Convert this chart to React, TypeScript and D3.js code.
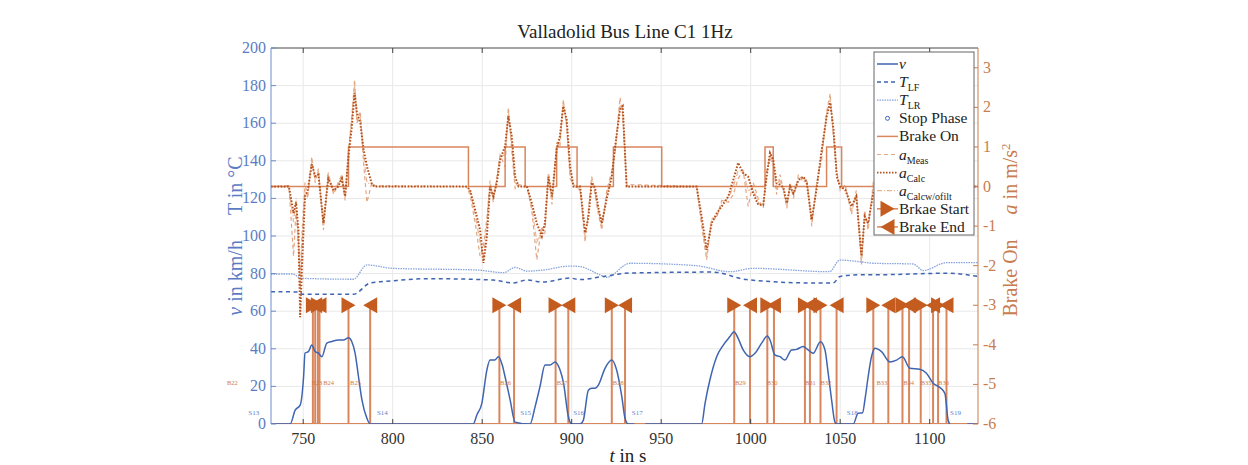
import React from 'react';
import * as d3 from 'd3';

type Pt = [number, number | null];

const xTicks = [750, 800, 850, 900, 950, 1000, 1050, 1100];
const leftTicks = [0, 20, 40, 60, 80, 100, 120, 140, 160, 180, 200];
const rightTicks = [-6, -5, -4, -3, -2, -1, 0, 1, 2, 3];

const speed: Pt[] = [
  [732, 0], [742.7, 0], [745.5, 7.4], [748.3, 10], [750.2, 25], [751, 37.7], [752.9, 38.5], [754.8, 42], [756.7, 38.5],
  [758.5, 37.7], [760.4, 35.8], [763.2, 43], [766, 43.9], [769.7, 44.7], [772.5, 44.7], [775.3, 45.9], [777.1, 43.9],
  [779, 37.6], [780.9, 25], [782.8, 12.8], [785.6, 3], [787.4, 0], [845, 0], [847, 4.8], [849.8, 11], [852.6, 28.7],
  [854.4, 34], [857, 34], [859.1, 35.8], [861, 32], [862.8, 25], [865.6, 12.8], [868.4, 1], [876.7, 0], [879.5, 9],
  [882.3, 20], [885.1, 31.4], [887.9, 31.4], [890.7, 33], [893.5, 28.7], [895.4, 22], [898.1, 4], [900, 0], [904.7, 0],
  [906.5, 2], [909.3, 18], [911.2, 19], [913, 19], [914.9, 20.7], [918.6, 29.6], [922.4, 34], [925.1, 28.7], [928, 14.5],
  [929.8, 3], [931.7, 0], [935, 0], [938, null], [941, 0], [972.6, 0], [974.5, 11], [977.2, 23.4], [981, 35.8],
  [984.7, 42], [988.4, 46.5], [990.7, 49.1], [993, 45.5], [995.8, 39.4], [999.6, 35.8], [1002.4, 37.6], [1006.1, 43],
  [1009.3, 46.8], [1010.8, 44.7], [1013.5, 36.8], [1016.4, 35.8], [1019.1, 34], [1022.8, 39.4], [1025.6, 39.7],
  [1029.3, 41.2], [1032.1, 39.4], [1034.9, 37.6], [1039, 43.8], [1041.5, 39.4], [1043.3, 27], [1045.2, 12.8],
  [1047, 1.2], [1048, 0], [1057.3, 0], [1060, 5.7], [1062.5, 6], [1064, 14], [1065.6, 25], [1067.5, 35.8],
  [1069.4, 40.3], [1073.1, 38.5], [1077.7, 33], [1081.5, 34], [1084.8, 35.8], [1088.9, 29.6], [1094.5, 29.1],
  [1098.2, 27], [1101.9, 21.7], [1105.6, 19.5], [1108.5, 16.3], [1110.3, 2], [1111.3, 0], [1114, null], [1121, 0], [1127, 0],
];

const tempLF: Pt[] = [
  [732, 70.4], [748, 70.2], [749.5, 69], [778, 69], [787.4, 75], [800, 76.2], [819, 77.3], [856, 76.6], [867, 75],
  [875, 76.6], [884, 75.5], [899, 77.6], [904.7, 76.8], [917.7, 78.5], [932.5, 80.3], [979, 80.8], [997.7, 76.8],
  [1034.9, 75], [1046, 75], [1050, 78.5], [1061, 79.4], [1070.6, 79.4], [1110, 80.2], [1127, 78.5],
];

const tempLR: Pt[] = [
  [732, 79.8], [744, 79.8], [749, 77.5], [778, 77], [785.6, 84.6], [800, 82.8], [847, 81.9], [862, 80.5], [868.4, 83.3],
  [875, 81.3], [884, 81.9], [899, 84], [904.7, 83.7], [915.8, 79.3], [919.6, 78], [932.5, 85.5], [969.8, 84.2],
  [988.4, 81], [1001.4, 82.8], [1044, 81], [1049.8, 87.2], [1061, 86.3], [1068.5, 85.5], [1090.8, 85.1],
  [1096.4, 81.6], [1109.4, 85.8], [1127, 85.8],
];

const brakeOn: Pt[] = [
  [732, 0], [775.3, 1], [842.3, 0], [862.8, 1], [874, 0], [891.6, 1], [903, 0], [923.3, 1], [950.3, 0],
  [1008, 1], [1012.6, 0], [1042.4, 1], [1050.8, 0], [1127, 0],
];

const accMeas: Pt[] = [
  [732, 0], [742, 0.02], [744.6, -1.76], [746, -0.6], [747.3, -1.5], [748.3, -2.3], [749.3, -1.2], [751, 0.1],
  [752.5, -0.3], [754.8, 0.75], [756.7, 0.1], [758.5, 0.45], [761.3, -1.1], [764, 0.35], [767, -0.2], [769.5, 0.1],
  [771.6, 0.3], [773.4, -0.35], [775.3, 0.9], [777.2, 1.8], [778.7, 2.7], [780, 1.6], [781.9, 1.9], [783.7, 0.6],
  [785.6, -0.4], [788.4, 0.1], [790, 0.02], [841, 0], [843.2, -0.2], [846, -0.9], [848.8, -1.76], [850.7, -1.5],
  [852.6, -0.8], [854.4, 0.15], [856.2, -0.4], [858.1, 0.2], [860, 0.8], [862.8, 0.5], [864.6, 2.0], [866.5, 0.9],
  [868.4, -0.05], [870.3, 0.05], [875, 0], [877.7, -0.6], [880.5, -1.85], [883.3, -1.0], [885, -1.2], [887, 0.35],
  [889, -0.45], [891.6, 1.1], [893.4, 1.0], [895.3, 2.2], [897.2, 1.5], [899.1, 0.2], [901, 0.05], [904.7, -0.1],
  [907.5, -1.4], [909.3, -0.6], [911.2, 0.25], [913, -0.2], [914.9, -0.7], [916.8, -1.1], [919.6, -0.1], [922.4, 0.4],
  [924.3, 0.9], [927, 2.25], [928.5, 1.8], [930.7, 0.05], [969.8, 0], [972.6, -1.0], [975.4, -1.85], [978.2, -0.8],
  [981, -0.8], [983.8, -0.35], [987.5, -0.4], [990.3, -0.2], [993, 0.2], [995.8, 0.4], [998.6, -0.5], [1001.4, 0.1],
  [1004.2, -0.3], [1007, -0.55], [1008.9, 0.4], [1010.8, 0.7], [1012.6, 0.55], [1014.5, -0.2], [1016.4, 0.3],
  [1018.3, -0.1], [1020.2, -0.55], [1022, 0.1], [1023.9, -0.3], [1026.7, 0.3], [1029.5, 0.1], [1031.3, 0.2],
  [1034.1, -1.0], [1036.9, 0.1], [1039.7, 0.7], [1042.5, 1.9], [1044.4, 2.35], [1046.3, 1.2], [1048.1, 0.4],
  [1050, -0.1], [1052.8, 0.05], [1056.3, -0.7], [1059, -0.1], [1061.9, -1.97], [1063.7, -0.6], [1065.6, -1.1],
  [1068.5, 0.1], [1070, 0], [1127, 0],
];

const accCalc: Pt[] = [
  [732, 0], [742, 0], [744.6, -0.67], [746, -0.4], [747.3, -1.1], [748.3, -3.3], [749.3, -2.0], [751, -0.25],
  [752.5, -0.1], [754.8, 0.56], [756.7, 0.26], [758.5, 0.3], [761.3, -0.92], [764, 0.2], [767, -0.1], [769.5, 0],
  [771.6, 0.2], [773.4, -0.25], [775.3, 0.77], [777.2, 1.53], [778.7, 2.37], [780, 1.87], [781.9, 1.6], [783.7, 0.94],
  [785.6, 0.51], [788.4, 0.05], [790, 0], [841, 0], [843.2, -0.08], [846, -0.58], [848.8, -1.09], [850.7, -1.93],
  [852.6, -1.26], [854.4, 0], [856.2, -0.25], [858.1, 0.08], [860, 0.68], [862.8, 1.02], [864.6, 1.78], [866.5, 1.27],
  [868.4, 0.25], [870.3, 0], [875, 0], [877.7, -0.42], [880.5, -0.93], [883.3, -1.26], [885, -0.93], [887, 0.25],
  [889, -0.25], [891.6, 0.94], [893.4, 1.27], [895.3, 2.03], [897.2, 1.69], [899.1, 0.51], [901, 0], [904.7, 0],
  [907.5, -1.17], [909.3, -0.8], [911.2, 0.1], [913, -0.03], [914.9, -0.54], [916.8, -0.93], [919.6, -0.3],
  [922.4, 0.25], [924.3, 1.02], [927, 1.95], [928.5, 2.03], [930.7, 0], [969.8, 0], [972.6, -0.76], [975.4, -1.6],
  [978.2, -0.93], [981, -0.68], [983.8, -0.5], [987.5, -0.25], [990.3, 0.17], [993, 0.6], [995.8, 0.34],
  [998.6, 0.25], [1001.4, -0.17], [1004.2, -0.46], [1007, -0.46], [1008.9, 0.25], [1010.8, 0.85], [1012.6, 0.68],
  [1014.5, 0.08], [1016.4, 0.05], [1018.3, -0.03], [1020.2, -0.42], [1022, 0], [1023.9, -0.17], [1026.7, 0.17],
  [1029.5, 0.25], [1031.3, 0.1], [1034.1, -0.84], [1036.9, -0.03], [1039.7, 0.94], [1042.5, 1.78], [1044.4, 2.12],
  [1046.3, 1.44], [1048.1, 0.25], [1050, 0], [1052.8, -0.08], [1056.3, -0.5], [1059, -0.25], [1061.9, -1.76],
  [1063.7, -0.76], [1065.6, -0.93], [1068.5, -0.17], [1070, 0], [1127, 0],
];

const accCalcNoFilt: Pt[] = [
  [732, 0], [742, 0], [744.6, -0.9], [746, -0.3], [747.3, -1.3], [748.3, -2.6], [749.3, -1.5], [751, -0.1],
  [752.5, -0.2], [754.8, 0.65], [756.7, 0.2], [758.5, 0.4], [761.3, -1.0], [764, 0.3], [767, -0.15], [769.5, 0.05],
  [771.6, 0.25], [773.4, -0.3], [775.3, 0.85], [777.2, 1.7], [778.7, 2.55], [780, 1.7], [781.9, 1.75], [783.7, 0.8],
  [785.6, 0.1], [788.4, 0.05], [790, 0], [841, 0], [843.2, -0.1], [846, -0.7], [848.8, -1.4], [850.7, -1.8],
  [852.6, -1.0], [854.4, 0.05], [856.2, -0.3], [858.1, 0.15], [860, 0.75], [862.8, 0.8], [864.6, 1.9], [866.5, 1.1],
  [868.4, 0.1], [870.3, 0], [875, 0], [877.7, -0.5], [880.5, -1.4], [883.3, -1.1], [885, -1.05], [887, 0.3],
  [889, -0.35], [891.6, 1.0], [893.4, 1.15], [895.3, 2.1], [897.2, 1.6], [899.1, 0.35], [901, 0], [904.7, -0.05],
  [907.5, -1.3], [909.3, -0.7], [911.2, 0.2], [913, -0.1], [914.9, -0.6], [916.8, -1.0], [919.6, -0.2], [922.4, 0.3],
  [924.3, 0.95], [927, 2.1], [928.5, 1.9], [930.7, 0], [969.8, 0], [972.6, -0.85], [975.4, -1.75], [978.2, -0.85],
  [981, -0.75], [983.8, -0.4], [987.5, -0.3], [990.3, 0], [993, 0.4], [995.8, 0.38], [998.6, -0.1], [1001.4, -0.05],
  [1004.2, -0.4], [1007, -0.5], [1008.9, 0.3], [1010.8, 0.8], [1012.6, 0.6], [1014.5, -0.05], [1016.4, 0.15],
  [1018.3, -0.05], [1020.2, -0.5], [1022, 0.05], [1023.9, -0.2], [1026.7, 0.2], [1029.5, 0.2], [1031.3, 0.15],
  [1034.1, -0.9], [1036.9, 0.02], [1039.7, 0.85], [1042.5, 1.85], [1044.4, 2.2], [1046.3, 1.3], [1048.1, 0.3],
  [1050, -0.05], [1052.8, 0], [1056.3, -0.6], [1059, -0.2], [1061.9, -1.85], [1063.7, -0.7], [1065.6, -1.0],
  [1068.5, 0], [1070, 0], [1127, 0],
];

const brakeStart = [755.4, 758.2, 775.3, 859.6, 891, 922.4, 990.8, 1009.3, 1030.3, 1039, 1068.5, 1084.8, 1095, 1104.7];
const brakeEnd = [756.7, 759.1, 787.4, 867.8, 898.1, 929.8, 999.6, 1013, 1033.1, 1048, 1076.9, 1088.5, 1101.9, 1109.4];

const stopLabels = ['S13', 'S14', 'S15', 'S16', 'S17', 'S18', 'S19'];
const stopLabelTimes = [719.3, 791.2, 871.2, 900.8, 933.6, 1053.7, 1111.4];
const brakeLabels = ['B22', 'B23', 'B24', 'B25', 'B26', 'B27', 'B28', 'B29', 'B30', 'B31', 'B32', 'B33', 'B34', 'B35', 'B36'];
const brakeLabelTimes = [707.4, 754.6, 761.2, 776.2, 860, 891.6, 923, 991.2, 1009, 1030.3, 1039, 1070.3, 1085.2, 1095, 1104.7];

const FONT = '"Liberation Serif", "DejaVu Serif", serif';
const BLUE = '#3f64b0';
const BLUE_AX = '#6f8ccc';
const BLUE_LIGHT = '#86a3da';
const ORANGE_AX = '#c97c4e';
const ORANGE = '#d9865c';
const ORANGE_DARK = '#b5501a';
const MARK = '#c45c20';

export default function App() {
  const L = 271, R = 978, T = 48, B = 424;
  const x = d3.scaleLinear().domain([732, 1127]).range([L, R]);
  const yL = d3.scaleLinear().domain([0, 200]).range([B, T]);
  const yR = d3.scaleLinear().domain([-6, 3.5]).range([B, T]);

  const smoothL = d3.line<Pt>().curve(d3.curveMonotoneX).defined(d => d[1] !== null).x(d => x(d[0])).y(d => yL(d[1] as number));
  const lineR = d3.line<Pt>().defined(d => d[1] !== null).x(d => x(d[0])).y(d => yR(d[1] as number));
  const stepR = d3.line<Pt>().curve(d3.curveStepAfter).x(d => x(d[0])).y(d => yR(d[1] as number));

  const triR = 'M-7,-8L7,0L-7,8Z';
  const triL = 'M7,-8L-7,0L7,8Z';
  const markY = yR(-3);

  const legendItems = ['v', 'TLF', 'TLR', 'stop', 'brake', 'meas', 'calc', 'calcw', 'bs', 'be'];
  const lgX = 874, lgY = 52, lgW = 100, lgH = 183;

  const renderLegendSample = (k: string, cy: number) => {
    const x1 = lgX + 3, x2 = lgX + 24;
    switch (k) {
      case 'v': return <line x1={x1} x2={x2} y1={cy} y2={cy} stroke={BLUE} strokeWidth={1.5} />;
      case 'TLF': return <line x1={x1} x2={x2} y1={cy} y2={cy} stroke={BLUE} strokeWidth={1.5} strokeDasharray="4,3" />;
      case 'TLR': return <line x1={x1} x2={x2} y1={cy} y2={cy} stroke={BLUE_LIGHT} strokeWidth={1.2} strokeDasharray="1.5,1" />;
      case 'stop': return <circle cx={(x1 + x2) / 2} cy={cy} r={2} fill="none" stroke={BLUE} strokeWidth={1} />;
      case 'brake': return <line x1={x1} x2={x2} y1={cy} y2={cy} stroke={ORANGE} strokeWidth={1.5} />;
      case 'meas': return <line x1={x1} x2={x2} y1={cy} y2={cy} stroke="#e4a784" strokeWidth={1.2} strokeDasharray="4,3" />;
      case 'calc': return <line x1={x1} x2={x2} y1={cy} y2={cy} stroke={ORANGE_DARK} strokeWidth={1.8} strokeDasharray="1.5,1.5" />;
      case 'calcw': return <line x1={x1} x2={x2} y1={cy} y2={cy} stroke="#e8b595" strokeWidth={1.2} strokeDasharray="5,2,1,2" />;
      case 'bs': return <g><line x1={x1} x2={x2} y1={cy} y2={cy} stroke={ORANGE} strokeWidth={1.5} /><path d={triR} transform={`translate(${(x1 + x2) / 2},${cy})`} fill={MARK} /></g>;
      case 'be': return <g><line x1={x1} x2={x2} y1={cy} y2={cy} stroke={ORANGE} strokeWidth={1.5} /><path d={triL} transform={`translate(${(x1 + x2) / 2},${cy})`} fill={MARK} /></g>;
    }
    return null;
  };

  const renderLegendText = (k: string) => {
    const sub = { fontSize: 10 } as const;
    switch (k) {
      case 'v': return <tspan fontStyle="italic">v</tspan>;
      case 'TLF': return <><tspan fontStyle="italic">T</tspan><tspan {...sub} dy={4}>LF</tspan></>;
      case 'TLR': return <><tspan fontStyle="italic">T</tspan><tspan {...sub} dy={4}>LR</tspan></>;
      case 'stop': return <tspan>Stop Phase</tspan>;
      case 'brake': return <tspan>Brake On</tspan>;
      case 'meas': return <><tspan fontStyle="italic">a</tspan><tspan {...sub} dy={4}>Meas</tspan></>;
      case 'calc': return <><tspan fontStyle="italic">a</tspan><tspan {...sub} dy={4}>Calc</tspan></>;
      case 'calcw': return <><tspan fontStyle="italic">a</tspan><tspan {...sub} dy={4}>Calcw/ofilt</tspan></>;
      case 'bs': return <tspan>Brkae Start</tspan>;
      case 'be': return <tspan>Brake End</tspan>;
    }
    return null;
  };

  const gap = '\u00a0\u00a0\u00a0\u00a0\u00a0';

  return (
    <svg width={1248} height={465} style={{ position: 'absolute', left: 0, top: 0, background: '#fff' }} fontFamily={FONT}>
      <defs>
        <clipPath id="plotClip"><rect x={L} y={T} width={R - L} height={B - T} /></clipPath>
      </defs>
      <rect x={0} y={0} width={1248} height={465} fill="#fff" />

      {/* grid */}
      <g stroke="#e8e8e8" strokeWidth={1}>
        {xTicks.map(t => <line key={'gx' + t} x1={x(t)} x2={x(t)} y1={T} y2={B} />)}
        {leftTicks.map(t => <line key={'gy' + t} x1={L} x2={R} y1={yL(t)} y2={yL(t)} />)}
      </g>

      <g clipPath="url(#plotClip)">
        {/* temperatures */}
        <path d={smoothL(tempLR) || ''} fill="none" stroke={BLUE_LIGHT} strokeWidth={1.3} strokeDasharray="1.5,1" />
        <path d={smoothL(tempLF) || ''} fill="none" stroke={BLUE} strokeWidth={1.5} strokeDasharray="4,3.5" />

        {/* accelerations */}
        <path d={lineR(accMeas) || ''} fill="none" stroke="#e4a784" strokeWidth={1.2} strokeDasharray="4,3" />
        <path d={lineR(accCalcNoFilt) || ''} fill="none" stroke="#e8b595" strokeWidth={1.2} strokeDasharray="5,2,1,2" />
        <path d={stepR(brakeOn) || ''} fill="none" stroke={ORANGE} strokeWidth={1.5} />
        <path d={lineR(accCalc) || ''} fill="none" stroke={ORANGE_DARK} strokeWidth={2} strokeDasharray="1.6,1.6" />

        {/* brake stems */}
        <line x1={L} x2={R} y1={yR(-6)} y2={yR(-6)} stroke={ORANGE} strokeWidth={2} />
        {brakeStart.concat(brakeEnd).map((t, i) => (
          <line key={'st' + i} x1={x(t)} x2={x(t)} y1={yR(-6)} y2={markY} stroke={ORANGE} strokeWidth={2} />
        ))}

        {/* speed */}
        <path d={smoothL(speed) || ''} fill="none" stroke={BLUE} strokeWidth={1.5} />

        {brakeStart.map((t, i) => <path key={'ms' + i} d={triR} transform={`translate(${x(t)},${markY})`} fill={MARK} />)}
        {brakeEnd.map((t, i) => <path key={'me' + i} d={triL} transform={`translate(${x(t)},${markY})`} fill={MARK} />)}
      </g>

      {/* small labels */}
      {stopLabels.map((s, i) => (
        <text key={s} x={x(stopLabelTimes[i])} y={yL(5)} fontSize={7} fill="#5a7fd0">{s}</text>
      ))}
      {brakeLabels.map((s, i) => (
        <text key={s} x={x(brakeLabelTimes[i])} y={yL(20.5)} fontSize={6.5} fill="#d27a4a">{s}</text>
      ))}

      {/* frame */}
      <line x1={L} x2={R} y1={T} y2={T} stroke="#555" strokeWidth={1} />
      <line x1={L} x2={L} y1={T} y2={B} stroke={BLUE_AX} strokeWidth={1} />
      <line x1={R} x2={R} y1={T} y2={B} stroke={ORANGE_AX} strokeWidth={1} />

      {/* x ticks */}
      {xTicks.map(t => (
        <g key={'xt' + t}>
          <line x1={x(t)} x2={x(t)} y1={B} y2={B - 5} stroke="#444" />
          <line x1={x(t)} x2={x(t)} y1={T} y2={T + 5} stroke="#444" />
          <text x={x(t)} y={444} fontSize={16} textAnchor="middle" fill="#333">{t}</text>
        </g>
      ))}
      {/* left ticks */}
      {leftTicks.map(t => (
        <g key={'lt' + t}>
          <line x1={L} x2={L + 5} y1={yL(t)} y2={yL(t)} stroke={BLUE_AX} />
          <text x={L - 5} y={yL(t) + 5} fontSize={16} textAnchor="end" fill="#5b7cc4">{t}</text>
        </g>
      ))}
      {/* right ticks */}
      {rightTicks.map(t => (
        <g key={'rt' + t}>
          <line x1={R - 5} x2={R} y1={yR(t)} y2={yR(t)} stroke={ORANGE_AX} />
          <text x={R + 5} y={yR(t) + 5} fontSize={16} textAnchor="start" fill={ORANGE_AX}>{t}</text>
        </g>
      ))}

      {/* title and labels */}
      <text x={625} y={38} fontSize={19} textAnchor="middle" fill="#222">Valladolid Bus Line C1 1Hz</text>
      <text x={628} y={462} fontSize={19} textAnchor="middle" fill="#222">
        <tspan fontStyle="italic">t</tspan> in s
      </text>
      <text transform={`translate(242,${(T + B) / 2}) rotate(-90)`} fontSize={20} textAnchor="middle" fill="#5b7cc4">
        <tspan fontStyle="italic">v</tspan> in km/h{gap}T in °C
      </text>
      <text transform={`translate(1017,${(T + B) / 2 - 6}) rotate(-90)`} fontSize={20} textAnchor="middle" fill={ORANGE_AX}>
        Brake On{gap}<tspan fontStyle="italic">a</tspan> in m/s<tspan fontSize={13} dy={-7}>2</tspan>
      </text>

      {/* legend */}
      <rect x={lgX} y={lgY} width={lgW} height={lgH} fill="#fff" stroke="#666" strokeWidth={1} />
      {legendItems.map((k, i) => {
        const cy = 64 + i * 18.1;
        return (
          <g key={k}>
            {renderLegendSample(k, cy)}
            <text x={lgX + 25} y={cy + 5} fontSize={15.5} fill="#222">{renderLegendText(k)}</text>
          </g>
        );
      })}
    </svg>
  );
}
